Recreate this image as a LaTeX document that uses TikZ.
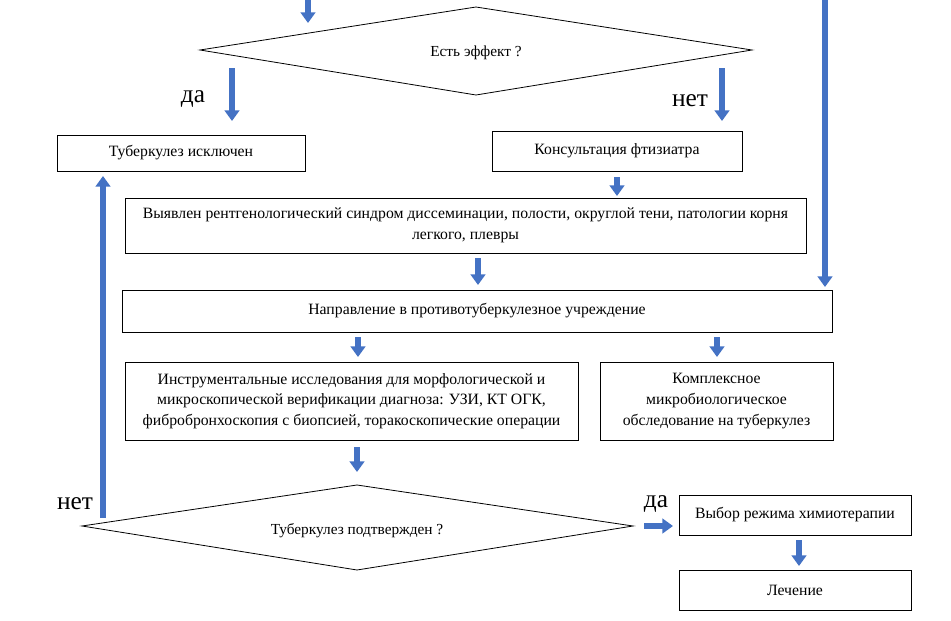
\documentclass[tikz,border=0pt]{standalone}
\usepackage{fontspec}
\setmainfont{Liberation Serif}
\usetikzlibrary{arrows.meta}
\definecolor{arrblue}{HTML}{4472C4}
\begin{document}
\begin{tikzpicture}[x=0.75pt,y=-0.75pt,
 box/.style={draw, line width=0.6pt, inner sep=0pt, font=\fontsize{11.8}{15.5}\selectfont, align=center},
 dshape/.style={draw, line width=0.6pt},
 dtext/.style={font=\fontsize{11.5}{14}\selectfont},
 flow/.style={arrblue, line width=4.5pt, -{Triangle[width=11pt,length=8pt]}},
 lbl/.style={font=\fontsize{19}{21}\selectfont}]
\useasboundingbox (0,0) rectangle (951,621);
% diamonds
\draw[dshape] (200,50) -- (476,7) -- (752,50) -- (476,95) -- cycle;
\node[dtext] (d1) at (476,53) {Есть эффект ?};
\draw[dshape] (82,526) -- (357,485) -- (633,526) -- (357,570) -- cycle;
\node[dtext] (d2) at (357,531) {Туберкулез подтвержден ?};
% boxes
\node[box, minimum width=186pt, minimum height=27pt] (b1) at (181,153) {\raisebox{-2pt}{Туберкулез исключен}};
\node[box, minimum width=187.5pt, minimum height=30pt] (b2) at (617,151) {\raisebox{-2pt}{Консультация фтизиатра}};
\node[box, minimum width=510.75pt, minimum height=41.25pt] (b3) at (465.5,225.5) {Выявлен рентгенологический синдром диссеминации, полости, округлой тени, патологии корня\\легкого, плевры};
\node[box, minimum width=532.5pt, minimum height=31.5pt] (b4) at (477,311) {\raisebox{-2pt}{Направление в противотуберкулезное учреждение}};
\node[box, minimum width=339.75pt, minimum height=58.5pt] (b5) at (351.5,401) {Инструментальные исследования для морфологической и\\микроскопической верификации диагноза: УЗИ, КТ ОГК,\\фибробронхоскопия с биопсией, торакоскопические операции};
\node[box, minimum width=174.75pt, minimum height=58.5pt] (b6) at (716.5,401) {Комплексное\\микробиологическое\\обследование на туберкулез};
\node[box, minimum width=174pt, minimum height=30pt] (b7) at (795,515) {\raisebox{-2pt}{Выбор режима химиотерапии}};
\node[box, minimum width=174pt, minimum height=30pt] (b8) at (795,590) {\raisebox{-2pt}{Лечение}};
% labels
\node[lbl] (l1) at (193,99) {да};
\node[lbl] (l2) at (690,101) {нет};
\node[lbl] (l3) at (75,504) {нет};
\node[lbl] (l4) at (656,504) {да};
% arrow ends
\coordinate (s1) at (308,0); \coordinate (e1) at (308,23);
\coordinate (s2) at (825,0); \coordinate (e2) at (825,287);
\coordinate (s3) at (232,68); \coordinate (e3) at (232,121);
\coordinate (s4) at (722,68); \coordinate (e4) at (722,121);
\coordinate (s5) at (617,177); \coordinate (e5) at (617,196);
\coordinate (s6) at (478,258); \coordinate (e6) at (478,285);
\coordinate (s7) at (358,337); \coordinate (e7) at (358,357);
\coordinate (s8) at (717,337); \coordinate (e8) at (717,357);
\coordinate (s9) at (357,447); \coordinate (e9) at (357,472);
\coordinate (s10) at (103,518); \coordinate (e10) at (103,176);
\coordinate (s11) at (644,526); \coordinate (e11) at (673,526);
\coordinate (s12) at (799,540); \coordinate (e12) at (799,566);
\foreach \i in {1,...,12} {\draw[flow] (s\i) -- (e\i);}
\end{tikzpicture}
\end{document}
